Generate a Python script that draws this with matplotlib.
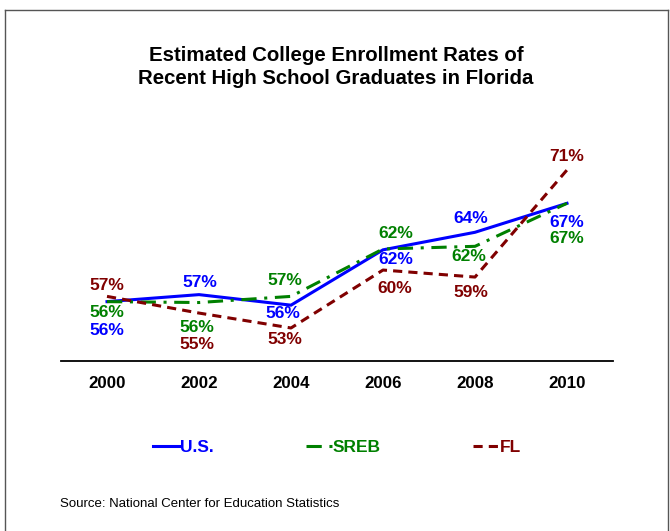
import matplotlib
matplotlib.use("Agg")
import matplotlib.pyplot as plt
from matplotlib.lines import Line2D

plt.rcParams['font.family'] = ['Liberation Sans', 'DejaVu Sans']

years = ["2000", "2002", "2004", "2006", "2008", "2010"]
us = [56.0, 56.8, 55.6, 61.9, 63.9, 67.2]
sreb = [56.0, 55.9, 56.6, 62.0, 62.3, 67.2]
fl = [56.6, 54.7, 53.0, 59.6, 58.8, 71.0]

BLUE = "#0000ff"
GREEN = "#008000"
RED = "#800000"

# label offsets in pixels (dx, dy up) from each point
us_off = [(0, -29), (1, 12), (-8, -8), (13, -10), (-4, 14), (0, -19)]
sreb_off = [(0, -11), (-2, -25), (-6, 16), (13, 15), (-6, -10), (0, -35)]
fl_off = [(0, 11), (-2, -31), (-6, -12), (12, -18), (-4, -15), (0, 13)]

W, H = 670, 531
fig = plt.figure(figsize=(W / 100, H / 100), dpi=100)
ax = fig.add_axes([61 / W, 1 - 361 / H, (613 - 61) / W, (361 - 130) / H])

x = range(len(years))
ax.plot(x, us, color=BLUE, lw=2.2, label="U.S.", solid_joinstyle="miter")
ax.plot(x, sreb, color=GREEN, lw=2.2, dashes=(5, 2.5, 1, 2.5), label="SREB")
ax.plot(x, fl, color=RED, lw=2.2, dashes=(3, 2), label="FL")

for vals, offs, c in [(us, us_off, BLUE), (sreb, sreb_off, GREEN), (fl, fl_off, RED)]:
    for i, v in enumerate(vals):
        dx, dy = offs[i]
        ax.annotate(f"{round(v)}%", (i, v), xytext=(dx * 0.72, dy * 0.72),
                    textcoords="offset points", ha="center", va="center",
                    color=c, fontsize=12.5, fontweight="bold")

ax.set_xlim(-0.5, len(years) - 0.5)
ax.set_ylim(49.24, 75.55)
ax.set_xticks(list(x))
ax.set_xticklabels(years, fontsize=12.2, fontweight="bold")
ax.tick_params(axis="x", length=0, pad=11)
ax.set_yticks([])
for s in ["left", "right", "top"]:
    ax.spines[s].set_visible(False)
ax.spines["bottom"].set_linewidth(1.3)
ax.patch.set_visible(False)

fig.text(336 / W, 1 - 67 / H,
         "Estimated College Enrollment Rates of\nRecent High School Graduates in Florida",
         ha="center", va="center", fontsize=14.7, fontweight="bold", linespacing=1.22)

leg = fig.legend(loc="center left", bbox_to_anchor=(153 / W, 1 - 447 / H), ncol=3,
                 frameon=False, borderpad=0, borderaxespad=0, handlelength=1.5,
                 handletextpad=0.05, columnspacing=5.3,
                 prop={"size": 12.5, "weight": "bold"})
for t, c in zip(leg.get_texts(), [BLUE, GREEN, RED]):
    t.set_color(c)

fig.text(60 / W, 1 - 504 / H, "Source: National Center for Education Statistics",
         fontsize=9.5, va="center", ha="left")

# outer frame
fc = "#555555"
fig.add_artist(Line2D([5 / W, 5 / W], [0, 1 - 10 / H], color=fc, lw=1, transform=fig.transFigure))
fig.add_artist(Line2D([5 / W, 668 / W], [1 - 10 / H, 1 - 10 / H], color=fc, lw=1, transform=fig.transFigure))
fig.add_artist(Line2D([668 / W, 668 / W], [0, 1 - 10 / H], color=fc, lw=1, transform=fig.transFigure))

fig.savefig("out.png", dpi=100)
